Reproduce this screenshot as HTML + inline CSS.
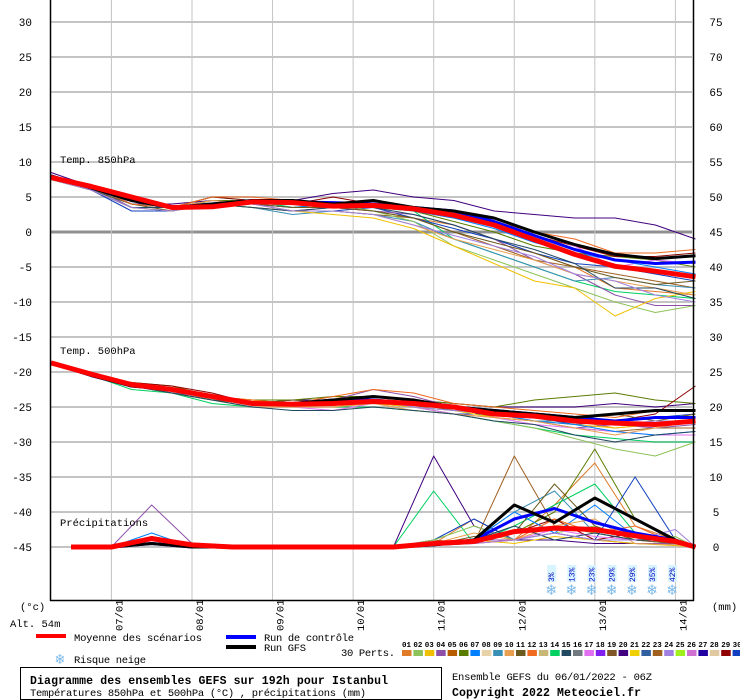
<!DOCTYPE html>
<html><head><meta charset="utf-8"><style>
html,body{margin:0;padding:0;background:#fff;}
svg{display:block;font-family:"Liberation Mono","DejaVu Sans Mono",monospace;}
</style></head><body>
<svg id="c" width="740" height="700" viewBox="0 0 740 700" xmlns="http://www.w3.org/2000/svg">
<g id="grid"></g>
<g id="series"></g>
<g id="axes"></g>
<g id="legend">
  <rect x="36" y="634" width="30" height="4" fill="#ff0000"/>
  <text x="74" y="641" font-size="10.5" textLength="128">Moyenne des scénarios</text>
  <rect x="226" y="635" width="30" height="4" fill="#0000ff"/>
  <text x="264" y="641" font-size="10.5" textLength="90">Run de contrôle</text>
  <rect x="226" y="645" width="30" height="4" fill="#000"/>
  <text x="264" y="651" font-size="10.5" textLength="42">Run GFS</text>
  <text x="60" y="664" font-size="15" fill="#7ab8e8" text-anchor="middle">❄</text>
  <text x="74" y="663" font-size="10.5" textLength="72">Risque neige</text>
  <text x="341" y="656" font-size="10.5" textLength="54">30 Perts.</text>
  <g id="perts"></g>
  <rect x="20.5" y="667.5" width="421" height="32" fill="none" stroke="#000"/>
  <text x="30" y="684" font-size="11.5" font-weight="bold" textLength="358">Diagramme des ensembles GEFS sur 192h pour Istanbul</text>
  <text x="30" y="696" font-size="10.5" textLength="336">Températures 850hPa et 500hPa (°C) , précipitations (mm)</text>
  <text x="452" y="680" font-size="10.5" textLength="200">Ensemble GEFS du 06/01/2022 - 06Z</text>
  <text x="452" y="696" font-size="11.5" font-weight="bold" textLength="189">Copyright 2022 Meteociel.fr</text>
</g>
</svg>
<script>
const tTimes=[0,12,24,36,48,60,72,84,96,108,120,132,144,156,168,180,192];
const pTimes=[6,18,30,42,54,66,78,90,102,114,126,138,150,162,174,186,192];
const dayLabels=["07/01","08/01","09/01","10/01","11/01","12/01","13/01","14/01"];
const dayHours=[18,42,66,90,114,138,162,186];
const leftTicks=[30,25,20,15,10,5,0,-5,-10,-15,-20,-25,-30,-35,-40,-45];
const rightTicks=[75,70,65,60,55,50,45,40,35,30,25,20,15,10,5,0];
const memberColors=["#e07b28","#400080","#a06020","#5a7d00","#00d060","#1040c0","#8e4fa8","#3a8fb7","#8dc35a","#900000","#e070f0","#f0c000","#0080ff","#e8a050","#6b5a1e","#f06a20","#204860","#a080e0"];
const t850=[
[8,6.5,4,3.5,4.5,4,3.5,3.5,3,2,1,-1,-3,-5,-8,-8.5,-9],
[8.5,6.5,4,4,4.5,4.5,4.5,5.5,6,5,4.5,3,2.5,2,2,1,-1],
[7.5,6,3.5,3,4,4,3,3,2.5,2,0,-2,-4,-5,-6,-7,-8],
[8,6,4,3.5,4.5,4.5,3.5,4,4,3,1.5,0,-2,-3,-3.5,-4,-5],
[7.5,6,3.5,3.5,5,4.5,3.5,4,3.5,3,-1,-3,-5,-7,-8.5,-9,-9.5],
[8,6,3,3,4,3.5,3,3,3.5,2,0.5,-1,-3,-4.5,-5,-6,-7],
[8,6.5,3.5,3.5,4,4,3,3.5,3,2.5,1,-1,-4,-6,-9,-10.5,-10.5],
[8,6,4,3.5,4,3.5,2.5,3,2.5,1.5,-1,-3,-5,-7,-6.5,-7.5,-8],
[7.5,6,3.5,3,4.5,4,3.5,4,3,1.5,-2,-4,-6,-8,-10,-11.5,-10.5],
[8,6.5,4,3.5,5,4.5,4,5,4,3,2,1,-0.5,-2,-3.5,-3.5,-3],
[8,6,3.5,3.5,4.5,4,3.5,3.5,4,3.5,3,2,0,-2,-5,-4,-4.5],
[7.5,6,3.5,3,4,3.5,3,2.5,2,0.5,-2,-4.5,-7,-8,-12,-9.5,-8.5],
[8,6.5,4,3.5,4,4,3.5,4,4,3,2,0.5,-1.5,-3,-4,-5,-6],
[8,6,3.5,3.5,4.5,4,3,3,2.5,1,-1,-2.5,-4,-6,-7,-8,-9],
[7.5,6,4,3,4,4,3.5,3.5,3,2,0,-1.5,-3,-5,-6.5,-7.5,-7],
[8,6.5,4,3.5,5,5,4.5,4,4,3.5,2.5,1.5,0,-1,-3,-3,-2.5],
[8,6,3.5,3.5,4,3.5,3,3.5,3.5,2.5,1,-1,-2.5,-4.5,-8,-8,-9.5],
[7.5,6,3.5,3,4,4,3,3,2.5,1,-0.5,-2,-3.5,-6,-7,-9,-10]];
const t850Mean=[7.8,6.5,5,3.5,3.6,4.3,4.2,3.7,3.8,3.3,2.4,1,-1.1,-3.2,-4.9,-5.6,-6.4];
const t850Gfs=[8,6.3,4.5,3.5,4,4.5,4.5,4,4.5,3.5,3,2,0,-1.8,-3.2,-3.8,-3.4];
const t850Ctl=[8,6.3,4.5,3.5,4,4.5,4.3,4.2,4,3.5,3,1.5,-0.5,-2.5,-4,-4.5,-4.3];
const t500=[
[-18.7,-20.5,-22,-22.5,-23.5,-24.5,-24.5,-23.5,-24,-24.5,-25,-26,-26.5,-27,-28,-27.5,-27],
[-18.7,-20.5,-21.5,-22.5,-23.5,-24.5,-24,-24,-23.5,-24,-24.5,-25,-25,-25,-24.5,-25,-24.5],
[-18.7,-20.5,-22,-23,-24,-24.5,-25,-25,-24.5,-25,-25,-26.5,-27,-28,-28.5,-28,-28],
[-18.7,-20.5,-21.5,-22,-23.5,-24,-24,-23.5,-23.5,-24,-24.5,-25,-24,-23.5,-23,-24,-24.5],
[-18.7,-20.5,-22.5,-23,-24.5,-25,-25,-25,-25,-25.5,-26,-27,-28,-29,-29.5,-30,-30],
[-18.7,-20.5,-22,-22.5,-23.5,-24.5,-25,-24.5,-24,-25,-26,-26,-26.5,-27.5,-27,-26.5,-26],
[-18.7,-20.5,-21.5,-22.5,-23.5,-24.5,-24.5,-24,-22.5,-23.5,-25,-26,-27,-28,-27.5,-28,-27.5],
[-18.7,-20.5,-22,-23,-23.5,-24.5,-24.5,-24,-24,-25,-25.5,-26,-27,-27,-27,-26.5,-26.5],
[-18.7,-20.5,-22,-22.5,-24,-25,-25,-24.5,-24.5,-25,-26,-27,-28,-29.5,-31,-32,-30],
[-18.7,-20.5,-21.5,-22,-23,-24.5,-24.5,-24,-24,-24.5,-25,-26,-26.5,-26.5,-27,-26,-22],
[-18.7,-20.5,-22,-23,-24,-25,-25,-25.5,-24.5,-25,-26,-26.5,-27.5,-28,-28.5,-29,-29],
[-18.7,-20.5,-22,-22.5,-23.5,-24,-25,-25,-24.5,-25,-25.5,-26.5,-27,-27.5,-28,-27.5,-27],
[-18.7,-20.5,-22,-22.5,-23.5,-24.5,-24.5,-24.5,-24,-24.5,-25,-26,-27,-27.5,-28.5,-29,-28.5],
[-18.7,-20.5,-21.5,-22.5,-24,-25,-25,-25,-24.5,-25.5,-26,-26.5,-27,-28,-29,-28,-27],
[-18.7,-20.5,-22,-23,-24,-24.5,-24,-24.5,-24,-24.5,-25.5,-25.5,-26,-26.5,-26,-27,-26],
[-18.7,-20.5,-22,-22.5,-23.5,-24,-24.5,-23.5,-22.5,-23,-24.5,-25,-25.5,-26,-26.5,-25.5,-25.5],
[-18.7,-20.5,-22,-23,-24,-25,-25.5,-25.5,-25,-25.5,-26,-27,-27.5,-29,-30,-29,-28.5],
[-18.7,-20.5,-22,-22.5,-23.5,-24.5,-24.5,-24,-24,-25,-25.5,-26,-26.5,-27,-27.5,-27,-27]];
const t500Mean=[-18.7,-20.3,-21.8,-22.5,-23.5,-24.5,-24.6,-24.5,-24.2,-24.5,-25,-26,-26.3,-27,-27.3,-27.5,-27];
const t500Gfs=[-18.7,-20.5,-22,-22.5,-23.5,-24.5,-24.5,-24,-23.5,-24,-25,-25.5,-26,-26.5,-26,-25.5,-25.5];
const t500Ctl=[-18.7,-20.5,-22,-22.5,-23.5,-24.5,-24.5,-24,-24,-24.5,-25,-25.5,-26,-26.5,-27,-26.5,-26.5];
const precip=[
[0,0,1,0,0,0,0,0,0,0.5,4,1,6,12,3,1,0],
[0,0,0.5,0,0,0,0,0,0,13,3,1,1,0.5,0.5,0.3,0],
[0,0,0.5,0,0,0,0,0,0,1,0.5,13,3,2,1,0.5,0],
[0,0,0.5,0,0,0,0,0,0,0.5,1,2,5,14,4,1,0],
[0,0,1,0,0,0,0,0,0,8,0.5,3,6,9,2,0.5,0],
[0,0,0.5,0,0,0,0,0,0,1,4,1,2,1,10,1,0],
[0,0,6,0.5,0,0,0,0,0,0.5,1,1,2,1,0.5,0.5,0],
[0,0,1,0,0,0,0,0,0,0.5,1,5,8,2,1,0.5,0],
[0,0,0.5,0,0,0,0,0,0,1,3,1,2,3,1,1.5,0],
[0,0,1.5,0.5,0,0,0,0,0,0.2,0.5,2,4,1,2,1,0],
[0,0,1,0,0,0,0,0,0,0.5,0.5,1,2.5,1.5,1,0.5,0],
[0,0,0.5,0,0,0,0,0,0,0.5,1,0.5,1.5,1,0.5,0.2,0],
[0,0,2,0,0,0,0,0,0,0.5,1,5,2,6,1.5,0.5,0],
[0,0,1,0,0,0,0,0,0,0.5,2,1,3,4,0.5,0.3,0],
[0,0,0.5,0,0,0,0,0,0,0.3,1.5,2,9,3,1,0.5,0],
[0,0,0.5,0,0,0,0,0,0,0.5,0.5,1,4,2,3,0.5,0],
[0,0,1,0,0,0,0,0,0,0.5,1,3,1,2,1,1,0],
[0,0,0.5,0,0,0,0,0,0,0.3,0.5,1,2,1,1,2.5,0]];
const precipMean=[0,0,1.2,0.3,0,0,0,0,0,0.5,0.8,2.2,2.7,2.5,1.6,0.8,0];
const precipGfs=[0,0,0.5,0,0,0,0,0,0,0.3,1,6,3.5,7,4,1,0];
const precipCtl=[0,0,0.5,0,0,0,0,0,0,0.3,1,4,5.5,3.5,2,1,0];
const snowHours=[149,155,161,167,173,179,185];
const snowPct=["3%","13%","23%","29%","29%","35%","42%"];
const pertColors=["#e07b28","#8dc35a","#f0c000","#8e4fa8","#b85c00","#5a7d00","#0080ff","#e8d2a8","#3a8fb7","#e8a050","#6b5a1e","#f06a20","#c8b878","#00d060","#204860","#707880","#e070f0","#8020f0","#805828","#400080","#f0d000","#3060a0","#a06020","#a080e0","#a0f020","#d070d0","#2000a0","#e0c8a0","#900000","#1040c0"];

const NS="http://www.w3.org/2000/svg";
function xH(h){return 51+h*3.357;}
function yL(v){return 232-v*7;}
function yR(v){return 547-v*7;}
function mk(tag,attrs,parent){const e=document.createElementNS(NS,tag);for(const k in attrs)e.setAttribute(k,attrs[k]);parent.appendChild(e);return e;}
const grid=document.getElementById('grid'),ser=document.getElementById('series'),axes=document.getElementById('axes');

leftTicks.forEach(v=>{
  const l=mk('line',{x1:51,x2:692,y1:yL(v),y2:yL(v),stroke:v===0?'#909090':'#c4c4c4','stroke-width':v===0?3:2},grid);
  
  
  const t=mk('text',{x:32,y:yL(v)+4,'font-size':11,'text-anchor':'end'},axes);
  t.textContent=v;
  
  
});
rightTicks.forEach((v,i)=>{
  const t=mk('text',{x:716,y:yL(leftTicks[i])+4,'font-size':11,'text-anchor':'middle'},axes);
  t.textContent=v;
  
  
});
dayHours.forEach((h,i)=>{
  const l=mk('line',{x1:xH(h),x2:xH(h),y1:0,y2:600,stroke:'#c4c4c4','stroke-width':1},grid);
  
  
  const t=mk('text',{x:0,y:0,'font-size':10.5,transform:`translate(${xH(h)+11},631) rotate(-90)`},axes);
  t.textContent=dayLabels[i];
  
  
});
const b=mk('path',{d:'M50.5 0 V600.5 H693.5 V0',fill:'none',stroke:'#000','stroke-width':1.5},axes);


[["Temp. 850hPa",60,163],["Temp. 500hPa",60,354],["Précipitations",60,526],["(°c)",20,610],["Alt. 54m",10,627],["(mm)",712,610]].forEach(a=>{
  const t=mk('text',{x:a[1],y:a[2],'font-size':10.5},axes);
  t.textContent=a[0];
  
  
});

function line(times,vals,yf,color,w,name){
  const pts=times.map((h,i)=>xH(h).toFixed(1)+','+yf(vals[i]).toFixed(1)).join(' ');
  const p=mk('polyline',{points:pts,fill:'none',stroke:color,'stroke-width':w,'stroke-linejoin':'round'},ser);
  
  
}
t850.forEach((s,i)=>line(tTimes,s,yL,memberColors[i],1,'member-850-line'));
t500.forEach((s,i)=>line(tTimes,s,yL,memberColors[i],1,'member-500-line'));
precip.forEach((s,i)=>line(pTimes,s,yR,memberColors[i],1,'member-precip-line'));
line(tTimes,t850Ctl,yL,'#0000ff',3,'control-850-line');
line(tTimes,t500Ctl,yL,'#0000ff',3,'control-500-line');
line(pTimes,precipCtl,yR,'#0000ff',3,'control-precip-line');
line(tTimes,t850Gfs,yL,'#000',3,'gfs-850-line');
line(tTimes,t500Gfs,yL,'#000',3,'gfs-500-line');
line(pTimes,precipGfs,yR,'#000',3,'gfs-precip-line');
line(tTimes,t850Mean,yL,'#ff0000',5,'mean-850-line');
line(tTimes,t500Mean,yL,'#ff0000',5,'mean-500-line');
line(pTimes,precipMean,yR,'#ff0000',5,'mean-precip-line');

snowHours.forEach((h,i)=>{
  const x=xH(h);
  const r=mk('rect',{x:x-4,y:565,width:9,height:17,fill:'#d8f4ff'},axes);
  
  
  const t=mk('text',{x:0,y:0,'font-size':8,fill:'#0000c0',transform:`translate(${x+3},582) rotate(-90)`},axes);
  t.textContent=snowPct[i];
  
  
  const s=mk('text',{x:x,y:595,'font-size':16,fill:'#7ab8e8','text-anchor':'middle'},axes);
  s.textContent='❄';
  
  
});
const perts=document.getElementById('perts');
pertColors.forEach((c,i)=>{
  const x=402+i*11.4;
  const t=mk('text',{x:x+4.5,y:647,'font-size':7.5,'text-anchor':'middle','font-weight':'bold'},perts);
  t.textContent=String(i+1).padStart(2,'0');
  
  
  const r=mk('rect',{x:x,y:650,width:9.5,height:6,fill:c},perts);
  
  
});
</script>
</body></html>
